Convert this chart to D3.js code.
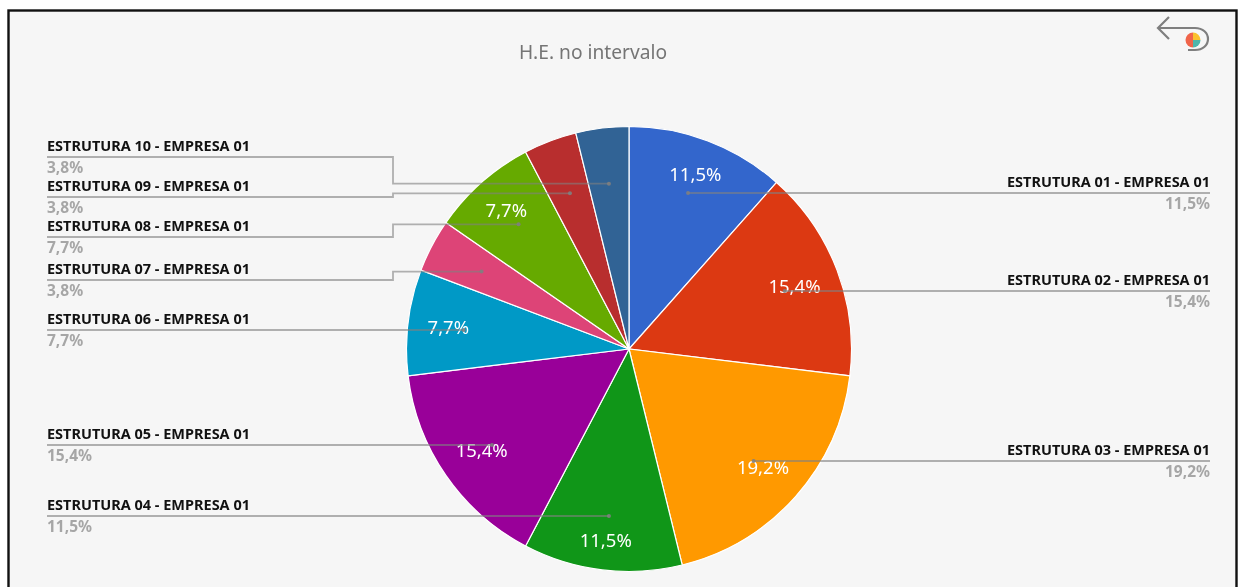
<!DOCTYPE html>
<head>
    <meta charset="utf-8">
    <style>
        html, body { margin: 0; padding: 0; background: #fff; overflow: hidden; }
        svg { display: block; }
    </style>
</head>
<body>
    <script src="https://d3js.org/d3.v7.min.js"></script>
    <script>

        // values (the percentages work out to counts out of 26)
        var categories = [
            "ESTRUTURA 01 - EMPRESA 01", "ESTRUTURA 02 - EMPRESA 01", "ESTRUTURA 03 - EMPRESA 01",
            "ESTRUTURA 04 - EMPRESA 01", "ESTRUTURA 05 - EMPRESA 01", "ESTRUTURA 06 - EMPRESA 01",
            "ESTRUTURA 07 - EMPRESA 01", "ESTRUTURA 08 - EMPRESA 01", "ESTRUTURA 09 - EMPRESA 01",
            "ESTRUTURA 10 - EMPRESA 01"
        ];
        var counts = [3, 4, 5, 3, 4, 2, 1, 2, 1, 1];
        var colors = ["#3366cc", "#dc3912", "#ff9900", "#109618", "#990099",
                      "#0099c6", "#dd4477", "#66aa00", "#b82e2e", "#316395"];
        var iconShares = [50, 25, 25];
        var iconColors = ["#f0644a", "#fbc02d", "#4db6ac"];

        // layout only: y of each legend rule, distance of each inside label from the centre
        var ruleY = [193, 291, 461, 516, 445, 330, 280, 237, 197, 157];
        var labelRadius = [187, 177, 179, 193, 179, 182, 0, 185, 0, 0];

        var width = 1241, height = 587;
        var cx = 629, cy = 349, radius = 222.5;
        var leftX = 47, rightX = 1210, elbowX = 393;

        var ptBR = d3.formatLocale({decimal: ",", thousands: ".", grouping: [3], currency: ["R$", ""]});
        var pct = ptBR.format(".1f");
        var total = d3.sum(counts);

        var svg = d3.select("body").append("svg")
            .attr("width", width)
            .attr("height", height)
            .style("filter", "blur(0.35px)");

        // frame
        svg.append("rect")
            .attr("x", 8.5).attr("y", 10.5)
            .attr("width", 1228).attr("height", 600)
            .attr("fill", "#f6f6f6")
            .attr("stroke", "#111")
            .attr("stroke-width", 2.4);

        // title
        svg.append("text")
            .attr("x", 593).attr("y", 59)
            .attr("text-anchor", "middle")
            .attr("font-family", "Noto Sans, sans-serif")
            .attr("font-size", 19.2)
            .attr("fill", "#757575")
            .text("H.E. no intervalo");

        // pie
        var pie = d3.pie().sort(null).value(function(d) { return d; });
        var arcs = pie(counts);
        var arc = d3.arc().innerRadius(0).outerRadius(radius);
        var g = svg.append("g").attr("transform", "translate(" + cx + "," + cy + ")");

        g.selectAll("path.slice")
            .data(arcs)
            .enter().append("path")
            .attr("class", "slice")
            .attr("d", arc)
            .attr("fill", function(d, i) { return colors[i]; })
            .attr("stroke", "#fff")
            .attr("stroke-width", 1.2);

        function polar(d, r) {
            var a = (d.startAngle + d.endAngle) / 2;
            return [r * Math.sin(a), -r * Math.cos(a)];
        }
        function share(d) {
            return pct(d.value / total * 100) + "%";
        }

        // leader lines and legend text
        var anchorR = 166.5;
        var line = d3.line();
        arcs.forEach(function(d, i) {
            var p = polar(d, anchorR), ax = cx + p[0], ay = cy + p[1];
            var right = i < 3;
            var pts;
            if (right) {
                pts = [[ax, ruleY[i]], [rightX, ruleY[i]]];
            } else if (i >= 6) {
                pts = [[leftX, ruleY[i]], [elbowX, ruleY[i]], [elbowX, ay], [ax, ay]];
            } else {
                pts = [[leftX, ruleY[i]], [ax, ruleY[i]]];
            }
            svg.append("path")
                .attr("d", line(pts))
                .attr("fill", "none")
                .attr("stroke", "#808080")
                .attr("stroke-opacity", 0.6)
                .attr("stroke-width", 1.8);
            var end = right ? pts[0] : pts[pts.length - 1];
            svg.append("circle")
                .attr("cx", end[0]).attr("cy", end[1])
                .attr("r", 2)
                .attr("fill", "#808080")
                .attr("fill-opacity", 0.9);

            var tx = right ? rightX : leftX;
            var anchor = right ? "end" : "start";
            svg.append("text")
                .attr("x", tx).attr("y", ruleY[i] - 6)
                .attr("text-anchor", anchor)
                .attr("font-family", "Noto Sans, sans-serif")
                .attr("font-weight", "bold")
                .attr("font-size", 13.5)
                .attr("textLength", 203)
                .attr("lengthAdjust", "spacingAndGlyphs")
                .attr("fill", "#111")
                .text(categories[i]);
            svg.append("text")
                .attr("x", tx).attr("y", ruleY[i] + 16)
                .attr("text-anchor", anchor)
                .attr("font-family", "Noto Sans, sans-serif")
                .attr("font-weight", "bold")
                .attr("font-size", 15.5)
                .attr("fill", "#a6a6a6")
                .text(share(d));
        });

        // inside labels
        g.selectAll("text.inside")
            .data(arcs.filter(function(d, i) { return labelRadius[i] > 0; }))
            .enter().append("text")
            .attr("class", "inside")
            .attr("x", function(d) { return polar(d, labelRadius[d.index])[0]; })
            .attr("y", function(d) { return polar(d, labelRadius[d.index])[1]; })
            .attr("dy", "0.36em")
            .attr("text-anchor", "middle")
            .attr("font-family", "Noto Sans, sans-serif")
            .attr("font-size", 18.5)
            .attr("fill", "#fff")
            .text(share);

        // back icon, top right
        var icon = svg.append("g").attr("transform", "translate(1158,28)");
        icon.append("path")
            .attr("d", "M11,-11 L0,0 L11,11 M0,0 H37 C45,0 50,5 50,11 C50,17 45,22 37,22 H30")
            .attr("fill", "none")
            .attr("stroke", "#7f7f7f")
            .attr("stroke-width", 2.2);
        var iconArc = d3.arc().innerRadius(0).outerRadius(7.5);
        icon.append("g")
            .attr("transform", "translate(35,12)")
            .selectAll("path")
            .data(d3.pie().sort(null).startAngle(Math.PI).endAngle(Math.PI * 3)(iconShares))
            .enter().append("path")
            .attr("d", iconArc)
            .attr("fill", function(d, i) { return iconColors[i]; });

    </script>
</body>
